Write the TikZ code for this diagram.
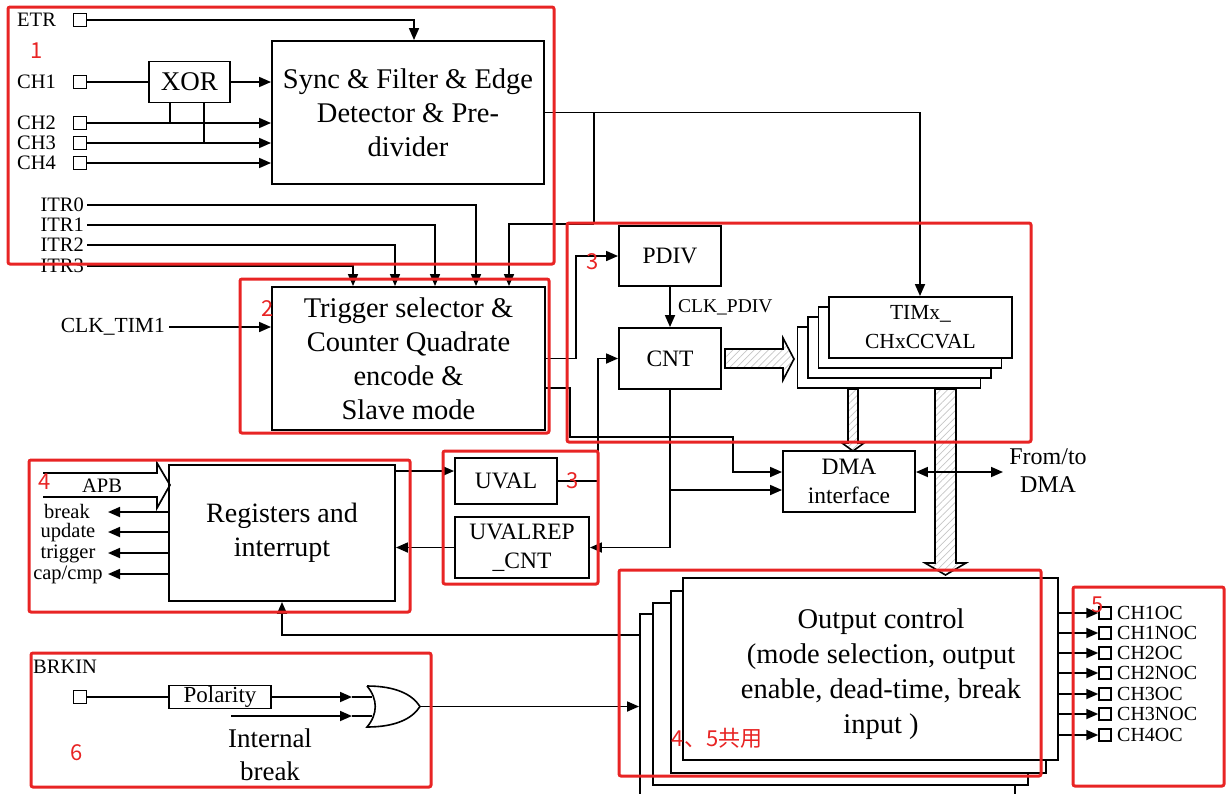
\documentclass[tikz,border=0pt]{standalone}
\usepackage{fontspec}
\setmainfont{Liberation Serif}
\newfontfamily\redfont{Noto Sans CJK SC}
\usetikzlibrary{arrows.meta,patterns.meta}
\definecolor{rbox}{RGB}{232,36,36}
\begin{document}
\begin{tikzpicture}[x=1pt,y=-1pt,
  box/.style={draw, line width=1.9pt, fill=white, align=center, inner sep=0pt},
  arr/.style={line width=1.7pt, -{Triangle[length=12pt,width=10pt]}},
  darr/.style={line width=1.7pt, {Triangle[length=12pt,width=10pt]}-{Triangle[length=12pt,width=10pt]}},
  ln/.style={line width=1.7pt},
  pinbox/.style={draw, line width=1.5pt, minimum size=13pt, inner sep=0pt, fill=white},
  redbox/.style={draw=rbox, line width=3pt, rounded corners=2pt},
  redlbl/.style={text=rbox, inner sep=0pt, font=\redfont\fontsize{22}{22}\selectfont},
  big/.style={font=\fontsize{28.5}{34}\selectfont},
  med/.style={font=\fontsize{23.5}{29}\selectfont},
  sml/.style={font=\fontsize{20.5}{20.5}\selectfont},
  hatch/.style={draw, line width=1.6pt, preaction={fill=white}, pattern={Lines[angle=45,distance=5pt,line width=0.7pt]}, pattern color=gray!45}
]
\useasboundingbox (0,0) rectangle (1226,793);

% ---------- Section 1: inputs and Sync ----------
\node[box, big, minimum width=272, minimum height=143] (sync) at (408,112.5) {Sync \& Filter \& Edge\\Detector \& Pre-\\divider};
\node[box, font=\fontsize{27}{27}\selectfont, minimum width=81, minimum height=41] (xor) at (189.5,82) {XOR};
\node[pinbox] (etrp) at (80,20) {};
\node[pinbox] (ch1p) at (80,82) {};
\node[pinbox] (ch2p) at (80,123) {};
\node[pinbox] (ch3p) at (80,143) {};
\node[pinbox] (ch4p) at (80,163) {};
\node[sml, anchor=west, inner sep=0] (etrl) at (17,20) {ETR};
\node[sml, anchor=west, inner sep=0] (ch1l) at (17,82) {CH1};
\node[sml, anchor=west, inner sep=0] (ch2l) at (17,123) {CH2};
\node[sml, anchor=west, inner sep=0] (ch3l) at (17,143) {CH3};
\node[sml, anchor=west, inner sep=0] (ch4l) at (17,163) {CH4};
\coordinate (etrk) at (414,20);
\draw[arr] (etrp.east) -- (etrk) -- (etrk |- sync.north);
\draw[ln] (ch1p.east) -- (ch1p.east -| xor.west);
\draw[arr] (xor.east) -- (xor.east -| sync.west);
\draw[arr] (ch2p.east) -- (ch2p.east -| sync.west);
\draw[arr] (ch3p.east) -- (ch3p.east -| sync.west);
\draw[arr] (ch4p.east) -- (ch4p.east -| sync.west);
\coordinate (x2) at (170,0);
\coordinate (x3) at (204,0);
\draw[ln] (x2 |- xor.south) -- (x2 |- ch2p);
\draw[ln] (x3 |- xor.south) -- (x3 |- ch3p);

% ITR inputs
\node[sml, anchor=east, inner sep=0] (itr0) at (84,205) {ITR0};
\node[sml, anchor=east, inner sep=0] (itr1) at (84,225) {ITR1};
\node[sml, anchor=east, inner sep=0] (itr2) at (84,245) {ITR2};
\node[sml, anchor=east, inner sep=0] (itr3) at (84,266) {ITR3};

% ---------- Section 2: trigger ----------
\node[box, big, minimum width=273, minimum height=143] (trig) at (408.5,358.5) {Trigger selector \&\\Counter Quadrate\\encode \&\\Slave mode};
\coordinate (k0) at (476,0);
\coordinate (k1) at (435,0);
\coordinate (k2) at (395,0);
\coordinate (k3) at (353,0);
\coordinate (k4) at (509,0);
\draw[arr] ([xshift=3]itr0.east) -| (k0 |- trig.north);
\draw[arr] ([xshift=3]itr1.east) -| (k1 |- trig.north);
\draw[arr] ([xshift=3]itr2.east) -| (k2 |- trig.north);
\draw[arr] ([xshift=3]itr3.east) -| (k3 |- trig.north);
\node[anchor=east, inner sep=0, font=\fontsize{21.5}{21.5}\selectfont] (clk) at (165,327) {CLK\_TIM1};
\draw[arr] ([xshift=4]clk.east) -- (clk.east -| trig.west);

% ---------- Section 3: PDIV / CNT / TIMx ----------
\node[box, med, minimum width=102, minimum height=60] (pdiv) at (670,256) {PDIV};
\node[box, med, minimum width=102, minimum height=61] (cnt) at (670,358.5) {CNT};
\draw[arr] (pdiv.south) -- (cnt.north);
\node[anchor=west, inner sep=0, font=\fontsize{19.5}{19.5}\selectfont] (clkp) at (678,307) {CLK\_PDIV};

\node[box, minimum width=183, minimum height=61] (timx3) at (889,357.5) {};
\node[box, minimum width=183, minimum height=61] (timx2) at (899.5,347.5) {};
\node[box, minimum width=183, minimum height=61] (timx1) at (910,337.5) {};
\node[box, font=\fontsize{21.5}{29}\selectfont, minimum width=183, minimum height=61] (timx) at (920.5,327.5) {TIMx\_\\CHxCCVAL};

% Sync output
\coordinate (tx) at (920,0);
\draw[arr] (sync.east) -| (tx |- timx.north);
\coordinate (br) at (594,112.5);
\coordinate (br2) at (594,224);
\draw[ln] (br) -- (br2);
\draw[arr] (br2) -| (k4 |- trig.north);

% trigger outputs
\coordinate (t1) at (576,0);
\draw[arr] (trig.east) -| (t1 |- pdiv.west) -- (pdiv.west);

% DMA
\node[box, med, minimum width=132, minimum height=61] (dma) at (849,481.5) {DMA\\interface};
\coordinate (t2a) at (545,388);
\coordinate (t2b) at (570,437);
\coordinate (t2c) at (733,472);
\draw[arr] (t2a) -| (t2b) -| (t2c) -- (t2c -| dma.west);
\coordinate (c1) at (670,490);
\draw[arr] (c1) -- (c1 -| dma.west);

% hatched arrows
\path[hatch] (725,349) -- (783,349) -- (783,338) -- (794,359) -- (783,380) -- (783,368) -- (725,368) -- cycle;
\path[hatch] (848,389) -- (858,389) -- (858,443) -- (864,443) -- (853,451) -- (842,443) -- (848,443) -- cycle;
\path[hatch] (935,389) -- (956,389) -- (956,563) -- (966,563) -- (945.5,575) -- (925,563) -- (935,563) -- cycle;

\coordinate (d1) at (1003,472);
\draw[darr] (dma.east |- d1) -- (d1);
\node[align=center, font=\fontsize{24}{28}\selectfont] (fromto) at (1048,471) {From/to\\DMA};

% ---------- Section 4: registers ----------
\node[box, font=\fontsize{28}{34}\selectfont, minimum width=226, minimum height=136] (reg) at (282,533) {Registers and\\interrupt};
\draw[ln] (43,473) -- (157,473) -- (157,463) -- (170,485) -- (157,508) -- (157,497) -- (43,497);
\node[sml] (apb) at (102,486) {APB};
\coordinate (obrk) at (108,512);
\coordinate (oupd) at (108,532);
\coordinate (otrg) at (108,553);
\coordinate (ocap) at (108,574);
\draw[arr] (obrk -| reg.west) -- (obrk);
\draw[arr] (oupd -| reg.west) -- (oupd);
\draw[arr] (otrg -| reg.west) -- (otrg);
\draw[arr] (ocap -| reg.west) -- (ocap);
\node[inner sep=0, font=\fontsize{20.5}{20.5}\selectfont] (lbrk) at (67,511) {break};
\node[inner sep=0, font=\fontsize{20.5}{20.5}\selectfont] (lupd) at (68,533) {update};
\node[inner sep=0, font=\fontsize{20.5}{20.5}\selectfont] (ltrg) at (68,554) {trigger};
\node[inner sep=0, font=\fontsize{20.5}{20.5}\selectfont] (lcap) at (68,575) {cap/cmp};

% UVAL
\node[box, med, minimum width=102, minimum height=46] (uval) at (506,481) {UVAL};
\node[box, med, minimum width=134, minimum height=61] (uvalrep) at (522,547.5) {UVALREP\\\_CNT};
\coordinate (r1) at (395,471);
\draw[arr] (r1) -- (r1 -| uval.west);
\draw[arr] (uvalrep.west) -- (uvalrep.west -| reg.east);
\coordinate (u1) at (598,0);
\draw[arr] (uval.east) -| (u1 |- cnt.west) -- (cnt.west);
\draw[arr] (cnt.south) |- (uvalrep.east);

% ---------- Output control ----------
\node[box, minimum width=375, minimum height=182] (oc3) at (827.5,705) {};
\node[box, minimum width=375, minimum height=182] (oc2) at (840.5,694) {};
\node[box, minimum width=375, minimum height=182] (oc1) at (858.5,682) {};
\node[box, minimum width=375, minimum height=182] (oc) at (870.5,669) {};
\node[align=center, font=\fontsize{28.5}{35}\selectfont] (octext) at (881,674) {Output control\\(mode selection, output\\enable, dead-time, break\\input )};
\coordinate (o1) at (639.5,635);
\draw[arr] (o1) -| (reg.south);

\foreach \n/\y/\t in {1/613/CH1OC,2/633/CH1NOC,3/653/CH2OC,4/673/CH2NOC,5/694/CH3OC,6/714/CH3NOC,7/735/CH4OC}{
  \node[pinbox, minimum size=12pt] (q\n) at (1105,\y) {};
  \draw[arr] (oc.east |- q\n) -- (q\n.west);
  \node[anchor=west, inner sep=0, font=\fontsize{20}{20}\selectfont] (ql\n) at (1117,\y) {\t};
}

% ---------- Section 6: break ----------
\node[sml, anchor=west, inner sep=0] (brkl) at (33,667) {BRKIN};
\node[pinbox] (brkp) at (80,697) {};
\node[box, line width=1.5pt, font=\fontsize{23}{23}\selectfont, minimum width=102, minimum height=23] (pol) at (220,697) {Polarity};
\draw[ln] (brkp.east) -- (brkp.east -| pol.west);
\coordinate (ortip) at (420,706.5);
\coordinate (orin1) at (372,697);
\coordinate (orin2) at (372,716);
\coordinate (ah1) at (352,697);
\coordinate (ah2) at (352,716);
\coordinate (ib) at (231,716);
\draw[arr] (pol.east) -- (ah1);
\draw[ln] (ah1) -- (orin1);
\draw[arr] (ib) -- (ah2);
\draw[ln] (ah2) -- (orin2);
\draw[line width=1.6pt, fill=white] (367,686) .. controls (395,686) and (412,694) .. (ortip) .. controls (412,719) and (395,727) .. (367,727) .. controls (378,714) and (378,699) .. (367,686);
\draw[arr] (ortip) -- (ortip -| oc3.west);
\node[align=center, font=\fontsize{27}{33}\selectfont] (intb) at (270,755) {Internal\\break};

% ---------- red frames and labels ----------
\draw[redbox] (8,7) rectangle (554,264);
\draw[redbox] (240,279) rectangle (549,433);
\draw[redbox] (567,223) rectangle (1031,442);
\draw[redbox] (29,460) rectangle (410,612);
\draw[redbox] (443,451) rectangle (598,584);
\draw[redbox] (619,570) rectangle (1041,776);
\draw[redbox] (1073,587) rectangle (1224,786);
\draw[redbox] (31,653) rectangle (431,787);
\node[redlbl] (r1l) at (37,51) {1};
\node[redlbl] (r2l) at (268,309) {2};
\node[redlbl] (r3l) at (593,262) {3};
\node[redlbl] (r4l) at (45,482) {4};
\node[redlbl] (r3bl) at (573,481) {3};
\node[redlbl] (r5l) at (1098,605) {5};
\node[redlbl] (r45l) at (717,738) {4、5共用};
\node[redlbl] (r6l) at (77,753) {6};
\end{tikzpicture}
\end{document}
